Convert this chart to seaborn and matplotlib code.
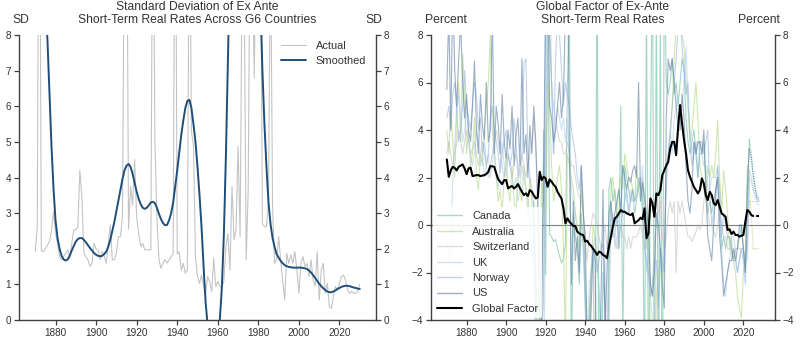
import numpy as np
import matplotlib
matplotlib.use("Agg")
import matplotlib.pyplot as plt
from matplotlib.lines import Line2D
import seaborn as sns

# ---------------- Left panel data (annual, 1870-2030) ----------------
SD_START = 1870
sd_actual = [
    1.92, 2.6, 16.0, 1.95, 1.92, 2.0, 2.1, 2.2, 2.5, 3.04,
    2.43, 2.15, 1.78, 1.69, 1.78, 1.87, 1.97, 1.73, 2.15, 2.53,
    2.53, 2.6, 4.2, 3.46, 1.87, 1.78, 1.69, 1.5, 1.6, 2.15,
    2.0, 1.97, 1.69, 1.92, 1.8, 1.59, 2.15, 2.67, 1.69, 1.69,
    1.87, 2.34, 2.34, 2.9, 12.0, 14.0, 2.55, 3.75, 3.23, 4.5,
    2.9, 2.43, 2.06, 2.15, 1.97, 1.97, 1.97, 1.97, 14.0, 5.0,
    2.85, 1.69, 1.45, 1.6, 1.69, 1.6, 1.69, 1.78, 1.85, 15.0,
    1.85, 1.92, 1.4, 1.59, 1.31, 1.4, 13.0, 5.3, 4.9, 1.78,
    1.22, 1.03, 1.26, 0.94, 0.75, 1.22, 1.08, 0.8, 1.73, 0.94,
    1.08, 0.94, 0.94, 1.08, 2.06, 2.43, 1.4, 3.75, 2.25, 2.53,
    4.87, 2.34, 10.0, 9.5, 1.69, 3.65, 12.0, 10.0, 6.8, 12.0,
    11.0, 12.0, 2.7, 2.62, 2.62, 3.28, 11.0, 3.18, 1.59, 1.69,
    2.34, 1.69, 1.12, 0.56, 1.87, 1.59, 1.83, 1.59, 1.92, 1.4,
    0.75, 1.59, 1.78, 1.5, 1.59, 1.22, 1.69, 1.12, 0.94, 1.92,
    0.56, 1.4, 1.59, 0.75, 1.03, 0.37, 0.33, 0.66, 0.94, 0.84,
    1.03, 1.22, 1.26, 1.12, 0.84, 0.75, 0.8, 0.75, 0.75, 0.8,
    1.0,
]
sd_smoothed = [
    14.0, 12.8, 11.6, 10.5, 9.5, 8.7, 7.9, 6.4, 4.9, 3.7,
    2.8, 2.3, 2.0, 1.8, 1.7, 1.67, 1.7, 1.8, 1.95, 2.08,
    2.2, 2.27, 2.3, 2.3, 2.25, 2.18, 2.1, 2.02, 1.95, 1.88,
    1.83, 1.8, 1.79, 1.8, 1.85, 1.92, 2.05, 2.25, 2.5, 2.75,
    3.05, 3.35, 3.65, 3.95, 4.2, 4.33, 4.38, 4.3, 4.1, 3.85,
    3.6, 3.4, 3.25, 3.15, 3.12, 3.15, 3.22, 3.3, 3.32, 3.28,
    3.15, 2.98, 2.83, 2.72, 2.66, 2.67, 2.8, 3.0, 3.3, 3.75,
    4.2, 4.7, 5.2, 5.6, 5.95, 6.15, 6.18, 5.95, 5.5, 5.0,
    4.3, 3.5, 2.6, 1.5, 0.5, -0.15, -0.55, -0.75, -0.8, -0.7,
    -0.45, 0.0, 0.9, 2.4, 4.6, 7.3, 10.0, 12.0, 13.5, 14.5,
    15.0, 15.2, 15.0, 14.6, 14.0, 13.3, 12.6, 11.9, 11.2, 10.4,
    9.8, 9.0, 7.0, 5.5, 4.3, 3.3, 2.7, 2.3, 2.05, 1.85,
    1.75, 1.66, 1.59, 1.54, 1.51, 1.49, 1.48, 1.47, 1.47, 1.47,
    1.47, 1.47, 1.46, 1.45, 1.43, 1.39, 1.33, 1.26, 1.18, 1.1,
    1.02, 0.95, 0.89, 0.84, 0.8, 0.78, 0.78, 0.8, 0.83, 0.87,
    0.9, 0.93, 0.95, 0.96, 0.96, 0.95, 0.93, 0.91, 0.9, 0.88,
    0.87,
]

# ---------------- Right panel data ----------------
GF_START = 1870
global_factor = [
    2.76, 2.03, 2.3, 2.45, 2.4, 2.3, 2.45, 2.5, 2.55, 2.38,
    2.14, 2.38, 2.42, 2.06, 2.08, 2.1, 2.1, 2.06, 2.08, 2.1,
    2.15, 2.24, 2.48, 2.47, 2.45, 2.17, 1.92, 1.82, 1.72, 1.89,
    1.89, 1.54, 1.6, 1.64, 1.54, 1.61, 1.72, 1.55, 1.4, 1.26,
    1.33, 1.22, 1.47, 1.4, 1.25, 1.12, 1.16, 2.24, 1.89, 2.03,
    1.96, 1.61, 1.92, 1.82, 1.7, 1.61, 1.4, 1.25, 1.12, 0.7,
    0.07, 0.28, 0.14, 0.05, -0.04, -0.04, -0.28, -0.35, -0.4, -0.42,
    -0.7, -0.66, -0.8, -0.88, -1.0, -1.12, -1.26, -1.12, -1.16, -1.26,
    -1.3, -1.4, -0.91, -0.49, -0.07, 0.28, 0.35, 0.49, 0.63, 0.56,
    0.56, 0.49, 0.45, 0.42, 0.49, 0.07, 0.14, 0.2, 0.31, 0.24,
    0.7, -0.56, -0.35, 1.12, 0.91, 0.35, 1.33, 1.26, 1.47, 2.1,
    2.3, 2.5, 2.66, 3.22, 3.5, 3.5, 2.94, 4.12, 5.05, 4.27,
    3.57, 3.0, 2.3, 2.03, 1.82, 1.6, 1.47, 1.33, 1.47, 1.96,
    1.75, 1.26, 1.05, 1.4, 1.26, 0.91, 0.84, 1.05, 0.77, 0.49,
    0.42, 0.35, -0.21, -0.18, -0.38, -0.28, -0.42, -0.42, -0.49, -0.45,
    -0.42, 0.14, 0.63, 0.56, 0.42, 0.38,
]
GF_PROJ_START = 2025
gf_proj = [0.38, 0.38, 0.38, 0.38]

COUNTRY_START = 1870
CANADA_START = 1914
PROJ_START = 2023

canada = [
    1.0, -1.5, -6.0, -10.0, -3.0, 4.0,
    -2.1, 10.0, -0.4, -0.5, -0.7, -0.6, -1.0, -1.3, -1.6, -1.4,
    -0.8, 6.0, 9.0, -6.0, 0.5, -0.5, -1.0, -2.5, 0.5, -1.0,
    -3.0, -7.0, -5.0, -2.0, -1.0, -8.0, 12.0, -10.0, -8.0, -2.0,
    -3.5, -9.0, 1.5, 2.0, 1.0, 1.5, 0.5, -1.0, 5.0, -5.0,
    2.5, 2.0, 1.5, 1.0, 1.5, 0.5, 1.0, 2.0, 1.5, 1.5,
    -7.0, 10.0, -8.0, 3.0, 12.0, -9.0, 10.0, -8.0, 9.0, -10.0,
    11.0, 6.0, 5.5, 6.0, 7.0, 5.5, 6.0, 5.0, 6.0, 7.0,
    6.5, 4.5, 3.5, 3.0, 3.5, 4.0, 3.0, 2.0, 3.0, 3.0,
    3.5, 2.0, 0.5, 1.0, 0.5, 1.0, 1.5, 2.0, 0.5, -1.0,
    -0.5, -1.0, -0.5, -0.5, -1.0, -1.5, -1.0, -1.0, -0.5, 0.0,
    -1.0, -2.0, 1.5, 3.6,
]
australia = [
    4.0, 3.0, 5.0, 3.5, 2.0, 4.5, 6.0, 3.5, 7.2, 5.5,
    3.0, 4.0, 2.5, 3.0, 4.5, 2.0, 1.5, 3.0, 2.5, 4.0,
    5.0, 6.0, 8.0, 4.0, 3.0, 2.0, 1.0, 1.5, 0.5, 2.0,
    3.0, 1.5, 1.0, 2.5, 1.0, 0.5, 2.0, 1.5, 1.0, 2.5,
    1.5, 0.5, 2.0, 1.0, -1.0, -3.0, -6.0, -5.0, 2.0, 1.0,
    0.5, 6.0, 5.0, 2.5, 1.0, 1.5, 2.0, 2.5, 1.5, -1.0,
    -5.0, 3.0, 2.5, 2.0, 1.5, 0.5, 0.0, -1.0, 1.5, 0.5,
    -2.0, -4.5, -5.0, -2.0, 0.0, -0.5, -1.5, -2.5, -5.0, -7.0,
    -12.0, -10.0, -2.0, 1.5, 2.0, 1.0, 0.5, 1.5, 2.0, 1.5,
    3.0, 2.5, 2.0, 2.0, 1.5, 1.0, 2.5, 1.5, 1.0, 2.0,
    0.5, -1.0, -0.5, -5.0, -9.0, -8.0, -3.0, -2.0, -1.5, -2.0,
    -1.0, 2.0, 3.0, 3.5, 5.0, 7.0, 8.5, 10.0, 9.0, 8.0,
    7.5, 6.0, 5.0, 3.5, 4.0, 5.0, 6.0, 4.5, 2.5, 2.0,
    1.5, 1.0, 2.5, 2.0, 2.5, 2.0, 3.0, 4.4, 2.0, 0.5,
    2.3, 1.5, 0.5, -1.0, -0.5, -1.5, -2.0, -3.0, -3.5, -3.9,
    -2.0, -1.5, 2.5, 1.5,
]
switzerland = [
    3.0, 3.5, 3.0, 2.5, 3.0, 3.5, 4.0, 3.5, 3.0, 3.5,
    4.0, 3.5, 3.0, 3.2, 3.5, 3.0, 2.5, 3.0, 3.5, 3.0,
    2.5, 2.0, 2.5, 3.0, 3.5, 4.0, 3.5, 3.0, 2.5, 2.0,
    2.5, 3.0, 2.5, 2.0, 2.5, 3.0, 2.5, 2.0, 3.0, 2.5,
    2.0, 2.5, 3.0, 3.5, 4.5, 3.0, 1.0, -2.0, -5.0, -3.0,
    4.0, 7.0, 8.0, 6.0, 5.0, 4.5, 4.0, 3.5, 3.5, 3.0,
    3.0, 3.5, 3.0, 2.5, 2.5, 2.0, 1.5, 1.2, 1.0, 0.5,
    -0.5, -1.5, -0.5, 0.0, 0.5, 0.3, 0.0, -0.5, -1.0, -0.5,
    0.0, -1.0, -0.5, -0.5, -0.3, -0.5, -1.0, -0.5, 0.0, -0.5,
    -0.5, -1.0, -0.5, -1.0, -0.5, -0.5, -0.5, -0.3, 0.0, -0.5,
    -1.0, -0.5, -1.5, -2.5, -3.0, -0.5, 0.0, 0.5, 1.0, -0.5,
    -1.0, -0.5, 0.5, 1.0, 0.5, 1.0, -2.0, 1.0, 0.5, 1.0,
    0.5, 0.0, -0.5, -0.5, -0.7, -0.5, -0.3, 0.0, -0.2, 0.0,
    1.0, 1.5, 0.5, 0.0, 0.0, -0.3, -0.5, 0.0, 0.5, 0.0,
    -0.5, -0.5, -1.0, -1.0, -1.2, -1.5, -1.0, -1.0, -1.0, -1.0,
    -1.0, -1.5, -1.0, 1.0,
]
uk = [
    -0.5, -1.5, -1.2, 2.0, 3.5, 5.0, 5.5, 4.5, 3.5, 4.0,
    5.0, 3.5, 3.0, 2.5, 3.0, 4.0, 3.5, 2.5, 3.0, 2.0,
    2.5, 3.0, 2.0, 2.5, 3.5, 2.0, 1.5, 2.5, 3.5, 2.5,
    2.0, 3.0, 2.5, 2.0, 1.5, 2.0, 1.0, 1.5, 2.5, 2.0,
    1.5, 1.0, 0.0, -1.5, -0.5, -10.0, -14.0, -8.0, -5.0, -9.0,
    3.0, 15.0, 12.0, 6.0, 3.0, 4.0, 5.0, 4.5, 4.0, 4.5,
    3.5, 4.5, 3.0, 1.5, 1.0, 0.5, -0.5, -2.0, -0.5, -0.5,
    -3.5, -6.0, -2.5, -2.0, -1.5, -1.5, -1.5, -3.0, -5.0, -2.5,
    -1.5, -8.0, -5.0, 0.0, 0.5, -1.0, -0.5, -0.5, 1.0, 2.5,
    2.0, 1.0, 0.5, 1.5, 1.0, 1.0, 1.5, 2.0, 1.5, 2.5,
    0.5, -2.0, -1.0, -3.0, -4.0, -10.0, -6.0, -5.0, -1.0, -2.0,
    -1.5, 1.5, 3.0, 4.0, 3.0, 4.5, 5.0, 5.5, 4.0, 5.0,
    6.0, 7.5, 5.0, 4.0, 3.0, 3.5, 3.0, 3.5, 3.5, 3.0,
    2.5, 2.5, 1.5, 1.5, 2.0, 2.0, 2.0, 2.5, 0.5, -1.0,
    -2.5, -3.0, -2.0, -1.5, -0.5, -0.5, -1.0, -2.0, -1.5, -1.0,
    -1.0, -1.5, -1.5, 2.0,
]
norway = [
    4.5, 5.0, 4.0, 5.5, 6.0, 4.8, 3.5, 4.0, 5.0, 6.5,
    5.0, 4.5, 4.0, 5.2, 6.0, 5.5, 4.0, 4.5, 3.0, 3.5,
    2.5, 3.0, 4.5, 5.0, 4.0, 3.5, 3.0, 2.2, 3.0, 3.5,
    4.0, 3.0, 2.5, 3.0, 4.5, 3.5, 2.0, 2.5, 3.0, 6.8,
    7.0, 3.0, 2.0, 1.5, 0.8, -4.0, -9.0, -12.0, -5.0, -2.0,
    9.0, 14.0, 8.0, 6.0, 3.0, 7.0, 9.0, 8.0, 6.5, 5.0,
    6.0, 5.5, 5.0, 4.0, 3.5, 3.0, 2.0, 1.5, 2.5, 1.0,
    -3.0, -6.0, -4.0, -2.0, -1.0, -0.5, -2.0, -1.5, -1.0, -0.8,
    -3.0, -6.0, -2.0, 1.0, -0.5, -0.5, 0.5, -1.0, 0.0, 0.5,
    1.0, 1.5, 0.5, 1.0, 1.5, 1.0, 1.2, 1.5, 2.0, 0.5,
    -1.0, -1.5, -2.0, -3.0, -2.5, -1.5, -1.5, -3.5, -1.0, -1.5,
    -2.0, 2.5, 3.0, 4.0, 5.0, 6.0, 7.0, 8.5, 9.0, 7.5,
    6.5, 5.5, 6.0, 3.5, 2.5, 3.0, 3.5, 2.0, 3.5, 3.5,
    3.0, 3.5, 4.0, 1.5, 0.0, 0.5, 1.0, 2.5, 1.5, -0.5,
    0.5, 0.0, -0.5, -0.5, -1.0, -1.5, -1.5, -2.0, -1.5, -1.0,
    -1.5, -2.5, 0.0, 2.3,
]
us = [
    5.7, 9.0, 4.0, 10.0, 6.5, 5.0, 7.0, 8.5, 6.0, 4.5,
    5.5, 4.0, 3.5, 5.0, 6.9, 4.0, 3.0, 5.5, 4.2, 3.6,
    6.0, 3.5, 4.0, 9.0, 3.0, 5.0, 4.2, 3.0, 5.5, 3.5,
    2.8, 4.0, 3.2, 5.0, 2.5, 3.8, 4.5, 2.5, 7.0, 3.0,
    3.8, 2.0, 4.2, 3.0, 5.0, 3.5, 1.0, -6.0, -3.0, 2.0,
    10.0, 12.0, 5.0, 4.5, 3.5, 4.0, 5.0, 6.0, 4.5, 5.5,
    9.0, 12.0, 3.0, -2.5, 1.0, -1.5, -0.5, -2.0, 2.5, 0.5,
    -0.5, -5.0, -6.0, -3.5, -1.0, -1.5, -8.0, -7.0, -3.0, 1.5,
    -4.5, -2.0, 0.5, 1.0, 0.0, 0.5, 1.0, 1.5, 0.5, 2.5,
    2.0, 1.5, 2.0, 1.8, 2.3, 2.5, 2.0, 6.0, 1.0, 1.8,
    1.2, 0.5, 0.0, -2.5, -3.0, -2.0, 0.5, 0.0, -1.0, -2.5,
    -3.5, 4.5, 7.0, 6.5, 7.0, 6.0, 5.0, 4.0, 4.0, 5.5,
    4.5, 2.5, 1.0, 0.5, 1.5, 3.5, 3.0, 3.5, 3.5, 3.0,
    4.0, 1.5, -0.5, -1.0, -1.5, 0.0, 1.5, 2.0, -0.5, -1.5,
    -3.0, -2.5, -2.0, -1.5, -1.5, -1.0, -1.5, -1.0, 0.0, 0.0,
    -1.0, -2.0, 1.5, 3.2,
]
# projections 2023-2028 (dotted)
canada_proj = [3.6, 3.0, 2.2, 1.6, 1.2, 1.1]
australia_proj = [1.5, 0.4, -1.0, -1.0, -1.0, -1.0]
switzerland_proj = [1.0, 1.0, 1.0, 1.0, 1.0, 1.0]
uk_proj = [2.0, 1.8, 1.5, 1.3, 1.1, 1.0]
norway_proj = [2.3, 2.0, 1.5, 1.2, 0.9, 0.8]
us_proj = [3.2, 2.8, 2.0, 1.5, 1.1, 1.0]

country_names = ["Canada", "Australia", "Switzerland", "UK", "Norway", "US"]
country_colors = ["#4fae8f", "#b2d67f", "#bdbdbd", "#a9cbea", "#8eaedc", "#56799f"]
country_alpha = [0.5, 0.6, 0.55, 0.55, 0.55, 0.58]

# ---------------- Figure ----------------
sns.set_theme(style="ticks")
plt.rcParams['font.family'] = ['Liberation Sans', 'DejaVu Sans']
TXT = "#333333"
SPINE = "#404040"

fig = plt.figure(figsize=(8, 3.44), dpi=100)
ax1 = fig.add_axes([19/800, 24/344, 357/800, 285/344])
ax2 = fig.add_axes([431/800, 24/344, 344/800, 285/344])

# Left panel
yrs_sd = np.arange(SD_START, SD_START + len(sd_actual))
yrs_sm = np.arange(SD_START, SD_START + len(sd_smoothed))
sns.lineplot(x=yrs_sd, y=sd_actual, ax=ax1, color="#c4c4c4", lw=0.8, label="Actual")
sns.lineplot(x=yrs_sm, y=sd_smoothed, ax=ax1, color="#1f4e79", lw=1.4, label="Smoothed")
ax1.set_xlim(1862, 2038)
ax1.set_ylim(0, 8)
ax1.set_yticks(range(0, 9))

# Right panel
ax2.axhline(0, color="#7f7f7f", lw=0.8, zorder=1)
series = [canada, australia, switzerland, uk, norway, us]
projs = [canada_proj, australia_proj, switzerland_proj, uk_proj, norway_proj, us_proj]
starts = [CANADA_START] + [COUNTRY_START] * 5
handles = []
for name, vals, pr, st, col, al in zip(country_names, series, projs, starts,
                                       country_colors, country_alpha):
    yrs = np.arange(st, st + len(vals))
    sns.lineplot(x=yrs, y=vals, ax=ax2, color=col, lw=0.8, alpha=al, zorder=2)
    pyrs = np.arange(PROJ_START, PROJ_START + len(pr))
    sns.lineplot(x=pyrs, y=pr, ax=ax2, color=col, lw=0.8, alpha=al + 0.15,
                 linestyle=(0, (1.2, 1.0)), zorder=2)
    handles.append(Line2D([0], [0], color=col, lw=1.0, alpha=al, label=name))

yrs_gf = np.arange(GF_START, GF_START + len(global_factor))
sns.lineplot(x=yrs_gf, y=global_factor, ax=ax2, color="black", lw=1.5, zorder=4)
yrs_gp = np.arange(GF_PROJ_START, GF_PROJ_START + len(gf_proj))
sns.lineplot(x=yrs_gp, y=gf_proj, ax=ax2, color="black", lw=1.5,
             linestyle=(1.5, (1.5, 1.5)), zorder=4)
handles.append(Line2D([0], [0], color="black", lw=1.5, label="Global Factor"))

ax2.set_xlim(1862, 2036)
ax2.set_ylim(-4, 8)
ax2.set_yticks(range(-4, 9, 2))

for ax in (ax1, ax2):
    ax.spines['top'].set_visible(False)
    for s in ('left', 'right', 'bottom'):
        ax.spines[s].set_visible(True)
        ax.spines[s].set_color(SPINE)
        ax.spines[s].set_linewidth(1.0)
    ax.set_xticks(range(1880, 2021, 20))
    ax.tick_params(axis='y', left=True, right=True, labelleft=True, labelright=True,
                   direction='out', length=3.5, width=0.9, color=SPINE,
                   labelcolor=TXT, labelsize=7.2, pad=2)
    ax.tick_params(axis='x', bottom=True, direction='out', length=3.5, width=0.9,
                   color=SPINE, labelcolor=TXT, labelsize=7.2, pad=2)
    ax.set_xlabel("")
    ax.set_ylabel("")
    ax.grid(False)

leg1 = ax1.legend(loc="upper right", bbox_to_anchor=(0.985, 0.995), frameon=False,
                  fontsize=7.9, handlelength=2.3, handletextpad=0.9,
                  labelspacing=0.5, borderaxespad=0)
for t in leg1.get_texts():
    t.set_color(TXT)

leg2 = ax2.legend(handles=handles, loc="lower left", bbox_to_anchor=(0.0, 0.0),
                  frameon=True, facecolor="white", edgecolor="none", framealpha=0.85,
                  fontsize=7.9, handlelength=2.3, handletextpad=0.9,
                  labelspacing=0.5, borderaxespad=0.2, borderpad=0.35)
leg2.set_zorder(5)
for t in leg2.get_texts():
    t.set_color(TXT)

# Titles and unit labels
fs_t = 8.7
fig.text(197.5/800, 1 - 7/344, "Standard Deviation of Ex Ante", ha="center", va="center",
         fontsize=fs_t, color=TXT)
fig.text(197.5/800, 1 - 20/344, "Short-Term Real Rates Across G6 Countries", ha="center",
         va="center", fontsize=fs_t, color=TXT)
fig.text(603/800, 1 - 7/344, "Global Factor of Ex-Ante", ha="center", va="center",
         fontsize=fs_t, color=TXT)
fig.text(603/800, 1 - 20/344, "Short-Term Real Rates", ha="center", va="center",
         fontsize=fs_t, color=TXT)
fig.text(12/800, 1 - 20/344, "SD", ha="left", va="center", fontsize=fs_t, color=TXT)
fig.text(382/800, 1 - 20/344, "SD", ha="right", va="center", fontsize=fs_t, color=TXT)
fig.text(425/800, 1 - 20/344, "Percent", ha="left", va="center", fontsize=fs_t, color=TXT)
fig.text(780/800, 1 - 20/344, "Percent", ha="right", va="center", fontsize=fs_t, color=TXT)

fig.savefig("out.png", dpi=100)
